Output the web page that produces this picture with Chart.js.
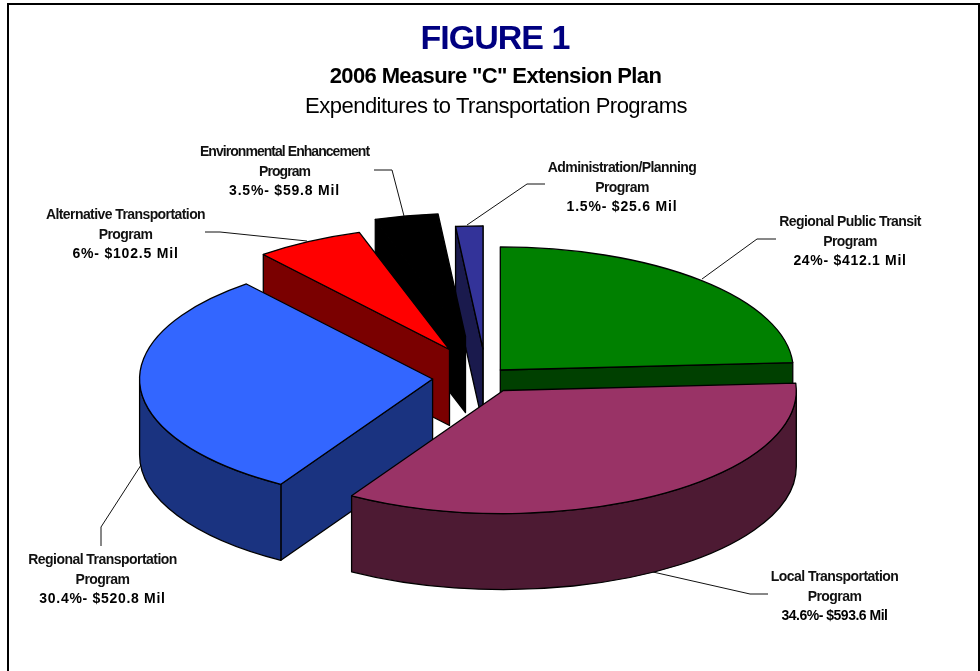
<!DOCTYPE html>
<html>
<head>
<meta charset="utf-8">
<title>Figure 1</title>
<script src="https://cdn.jsdelivr.net/npm/chart.js@4"></script>
<style>
  html, body { margin: 0; padding: 0; background: #fff; }
  canvas { display: block; }
</style>
</head>
<body>
<canvas id="pie" width="980" height="671"></canvas>
<script>
// Data
const categories = [
  ['Regional Public Transit', 'Program'],
  ['Local Transportation', 'Program'],
  ['Regional Transportation', 'Program'],
  ['Alternative Transportation', 'Program'],
  ['Environmental Enhancement', 'Program'],
  ['Administration/Planning', 'Program']
];
const amounts = [412.1, 593.6, 520.8, 102.5, 59.8, 25.6];
const percents = ['24', '34.6', '30.4', '6', '3.5', '1.5'];

// Look of the slices
const topColors = ['#008000', '#993366', '#3366FF', '#FF0000', '#000000', '#333399'];
const wallColors = ['#004000', '#4D1A33', '#1A3380', '#7A0000', '#000000', '#1A1A4D'];
// how far each slice is pulled out of the pie, in screen pixels
const explodeX = [17.8, 20.8, -49.9, -33, -17, 0.5];
const explodeY = [-8, 12.5, 1, -28.5, -41.5, -29];
const drawOrder = [5, 4, 3, 2, 0, 1];

// 3D view
const pieX = 482.5, pieY = 378, squash = 0.42, depth = 76;

// Label layout: centre x, baseline of first line, letter spacing, leader line
const labelPos = [
  { x: 850, y: 226, nameSp: -0.57, pctSp: 0.7, leader: [[776, 239], [757, 239], [702, 279]] },
  { x: 834.5, y: 581, nameSp: -0.55, pctSp: -0.5, leader: [[768, 594], [750, 594], [653, 572]] },
  { x: 102.5, y: 564, nameSp: -0.54, pctSp: 0.7, leader: [[101, 546], [101, 527], [143, 462]] },
  { x: 125.5, y: 219, nameSp: -0.58, pctSp: 0.8, leader: [[205, 232], [220, 232], [307, 241]] },
  { x: 284.5, y: 156, nameSp: -0.95, pctSp: 0.8, leader: [[374, 170], [392, 170], [404, 216]] },
  { x: 622, y: 172, nameSp: -0.58, pctSp: 0.8, leader: [[545, 184], [527, 184], [467, 225]] }
];

function text(ctx, str, x, y, font, spacing, color) {
  ctx.font = font;
  ctx.letterSpacing = spacing + 'px';
  ctx.fillStyle = color || '#000';
  ctx.textAlign = 'center';
  ctx.textBaseline = 'alphabetic';
  ctx.fillText(str, x, y);
}

function toSlice(ctx, arc, i) {
  ctx.translate(pieX + explodeX[i], pieY + explodeY[i]);
  ctx.scale(1, squash);
  ctx.translate(-arc.x, -arc.y);
}

function radialWall(ctx, arc, i, a) {
  const d = depth / squash;
  const ex = arc.x + Math.cos(a) * arc.outerRadius;
  const ey = arc.y + Math.sin(a) * arc.outerRadius;
  ctx.save();
  toSlice(ctx, arc, i);
  ctx.beginPath();
  ctx.moveTo(arc.x, arc.y);
  ctx.lineTo(ex, ey);
  ctx.lineTo(ex, ey + d);
  ctx.lineTo(arc.x, arc.y + d);
  ctx.closePath();
  ctx.restore();
  ctx.fillStyle = wallColors[i];
  ctx.fill();
  ctx.stroke();
}

function drawSlice(ctx, arc, i) {
  const d = depth / squash;
  ctx.strokeStyle = '#000';
  ctx.lineWidth = 1.3;
  ctx.lineJoin = 'round';

  // side walls that face the viewer
  if (-Math.cos(arc.startAngle) > 0) radialWall(ctx, arc, i, arc.startAngle);
  if (Math.cos(arc.endAngle) > 0) radialWall(ctx, arc, i, arc.endAngle);

  // rim
  const a1 = Math.max(arc.startAngle, 0);
  const a2 = Math.min(arc.endAngle, Math.PI);
  if (a2 > a1) {
    ctx.save();
    toSlice(ctx, arc, i);
    ctx.beginPath();
    ctx.arc(arc.x, arc.y, arc.outerRadius, a1, a2);
    ctx.arc(arc.x, arc.y + d, arc.outerRadius, a2, a1, true);
    ctx.closePath();
    ctx.restore();
    ctx.fillStyle = wallColors[i];
    ctx.fill();
    ctx.stroke();
  }

  // top face
  ctx.save();
  toSlice(ctx, arc, i);
  arc.draw(ctx);
  ctx.beginPath();
  ctx.moveTo(arc.x, arc.y);
  ctx.arc(arc.x, arc.y, arc.outerRadius, arc.startAngle, arc.endAngle);
  ctx.closePath();
  ctx.restore();
  ctx.stroke();
}

const pie3d = {
  id: 'pie3d',
  beforeDatasetsDraw(chart) {
    const ctx = chart.ctx;
    const arcs = chart.getDatasetMeta(0).data;

    // frame
    ctx.strokeStyle = '#000';
    ctx.lineWidth = 2;
    ctx.beginPath();
    ctx.moveTo(8, 671);
    ctx.lineTo(8, 4);
    ctx.lineTo(979, 4);
    ctx.lineTo(979, 671);
    ctx.stroke();

    // leaders go under the pie
    ctx.lineWidth = 1;
    ctx.strokeStyle = '#111';
    labelPos.forEach(p => {
      ctx.beginPath();
      p.leader.forEach((pt, k) => k ? ctx.lineTo(pt[0], pt[1]) : ctx.moveTo(pt[0], pt[1]));
      ctx.stroke();
    });

    drawOrder.forEach(i => drawSlice(ctx, arcs[i], i));

    // titles
    text(ctx, 'FIGURE 1', 495, 49, 'bold 34px "Liberation Sans"', -1, '#000080');
    text(ctx, '2006 Measure "C" Extension Plan', 495.5, 83, 'bold 22px "Liberation Sans"', -0.63);
    text(ctx, 'Expenditures to Transportation Programs', 496, 113, '22px "Liberation Sans"', -0.5);

    // slice labels
    categories.forEach((lines, i) => {
      const p = labelPos[i];
      lines.forEach((line, k) => {
        text(ctx, line, p.x, p.y + k * 19.6, 'bold 14px "Liberation Sans"', p.nameSp, '#111');
      });
      text(ctx, percents[i] + '%- $' + amounts[i] + ' Mil', p.x, p.y + 2 * 19.6, 'bold 14px "Liberation Sans"', p.pctSp);
    });
    return false;
  }
};

new Chart(document.getElementById('pie'), {
  type: 'pie',
  data: {
    labels: categories.map(c => c[0]),
    datasets: [{
      data: amounts,
      backgroundColor: topColors,
      borderWidth: 0,
      radius: 293,
      clip: false
    }]
  },
  options: {
    responsive: false,
    animation: false,
    events: [],
    plugins: { legend: { display: false }, tooltip: { enabled: false } }
  },
  plugins: [pie3d]
});
</script>
</body>
</html>
